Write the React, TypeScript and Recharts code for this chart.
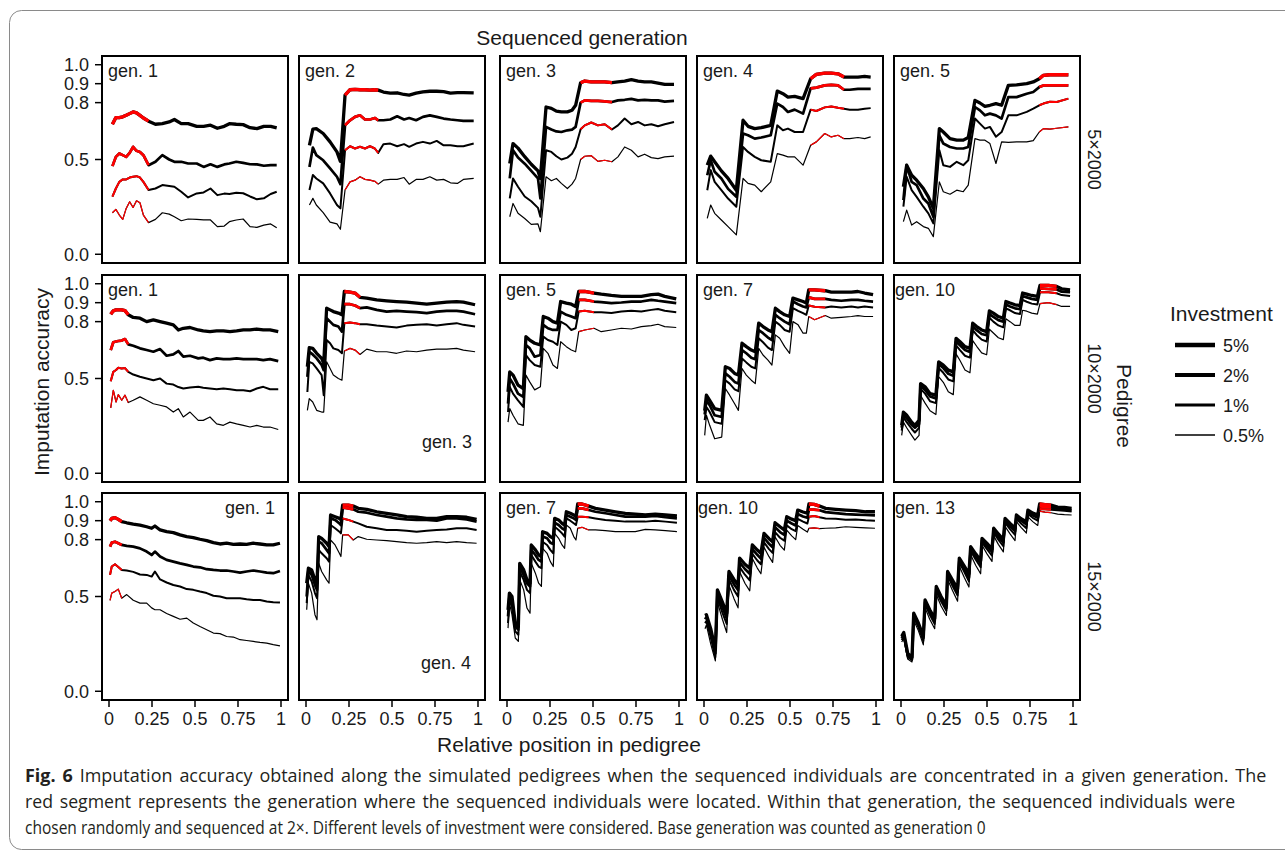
import React, { useLayoutEffect, useRef, useState } from "react";
import { LineChart, Line, XAxis, YAxis } from "recharts";

// ---- axes / labels ----
const xTicks = [0, 0.25, 0.5, 0.75, 1];
const yTicks = [0, 0.5, 0.8, 0.9, 1];
const investment = ["5%", "2%", "1%", "0.5%"];
const pedigrees = ["5×2000", "10×2000", "15×2000"];
const genLabels = [
  ["gen. 1", "gen. 2", "gen. 3", "gen. 4", "gen. 5"],
  ["gen. 1", "gen. 3", "gen. 5", "gen. 7", "gen. 10"],
  ["gen. 1", "gen. 4", "gen. 7", "gen. 10", "gen. 13"],
];
const captionLines = [
  "Imputation accuracy obtained along the simulated pedigrees when the sequenced individuals are concentrated in a given generation. The",
  "red segment represents the generation where the sequenced individuals were located. Within that generation, the sequenced individuals were",
  "chosen randomly and sequenced at 2×. Different levels of investment were considered. Base generation was counted as generation 0",
];

// ---- pedigree 5x2000 ----
const p11x = [0.02, 0.04, 0.06, 0.08, 0.1, 0.12, 0.14, 0.16, 0.18, 0.2, 0.23, 0.27, 0.31, 0.35, 0.38, 0.42, 0.46, 0.51, 0.55, 0.59, 0.63, 0.67, 0.7, 0.74, 0.78, 0.82, 0.86, 0.9, 0.94, 0.975];
const p11a = [0.686, 0.721, 0.721, 0.725, 0.733, 0.742, 0.751, 0.746, 0.733, 0.719, 0.702, 0.686, 0.689, 0.698, 0.711, 0.689, 0.689, 0.675, 0.675, 0.681, 0.665, 0.675, 0.689, 0.686, 0.684, 0.668, 0.663, 0.675, 0.675, 0.667];
const p11b = [0.465, 0.514, 0.532, 0.523, 0.514, 0.535, 0.567, 0.546, 0.54, 0.523, 0.47, 0.488, 0.523, 0.5, 0.488, 0.488, 0.479, 0.479, 0.461, 0.475, 0.461, 0.474, 0.479, 0.488, 0.482, 0.475, 0.474, 0.467, 0.47, 0.47];
const p11c = [0.304, 0.347, 0.382, 0.395, 0.395, 0.405, 0.409, 0.412, 0.405, 0.382, 0.339, 0.347, 0.365, 0.36, 0.356, 0.33, 0.3, 0.321, 0.326, 0.347, 0.312, 0.32, 0.318, 0.325, 0.322, 0.305, 0.29, 0.295, 0.318, 0.33];
const p11d = [0.219, 0.237, 0.207, 0.184, 0.242, 0.277, 0.247, 0.282, 0.272, 0.207, 0.167, 0.184, 0.219, 0.212, 0.198, 0.177, 0.186, 0.184, 0.181, 0.181, 0.146, 0.149, 0.172, 0.181, 0.186, 0.146, 0.142, 0.154, 0.16, 0.14];
const p11red = [0.02, 0.23];

const p12x = [0.02, 0.04, 0.06, 0.1, 0.14, 0.18, 0.2, 0.227, 0.256, 0.285, 0.314, 0.343, 0.372, 0.4, 0.42, 0.45, 0.49, 0.53, 0.57, 0.6, 0.64, 0.68, 0.72, 0.76, 0.8, 0.84, 0.88, 0.915, 0.975];
const p12a = [0.575, 0.66, 0.663, 0.637, 0.593, 0.54, 0.49, 0.84, 0.868, 0.87, 0.868, 0.868, 0.866, 0.868, 0.866, 0.856, 0.85, 0.852, 0.843, 0.84, 0.85, 0.857, 0.86, 0.86, 0.858, 0.85, 0.853, 0.853, 0.851];
const p12b = [0.461, 0.563, 0.523, 0.496, 0.453, 0.409, 0.37, 0.681, 0.707, 0.725, 0.733, 0.711, 0.711, 0.719, 0.707, 0.707, 0.711, 0.728, 0.711, 0.719, 0.707, 0.725, 0.733, 0.725, 0.716, 0.711, 0.707, 0.704, 0.704];
const p12c = [0.339, 0.418, 0.4, 0.374, 0.321, 0.26, 0.242, 0.549, 0.57, 0.558, 0.567, 0.558, 0.57, 0.558, 0.535, 0.581, 0.584, 0.57, 0.581, 0.567, 0.584, 0.593, 0.584, 0.598, 0.575, 0.575, 0.57, 0.57, 0.584];
const p12d = [0.26, 0.295, 0.26, 0.22, 0.17, 0.16, 0.132, 0.339, 0.382, 0.391, 0.409, 0.395, 0.391, 0.385, 0.37, 0.391, 0.395, 0.395, 0.405, 0.37, 0.395, 0.395, 0.409, 0.391, 0.395, 0.377, 0.374, 0.395, 0.4];
const p12red = [0.227, 0.42];

const p13x = [0.016, 0.035, 0.064, 0.103, 0.141, 0.18, 0.194, 0.227, 0.258, 0.287, 0.316, 0.351, 0.378, 0.399, 0.428, 0.452, 0.49, 0.529, 0.568, 0.61, 0.645, 0.684, 0.723, 0.762, 0.8, 0.839, 0.878, 0.917, 0.971];
const p13a = [0.479, 0.584, 0.56, 0.515, 0.475, 0.44, 0.4, 0.777, 0.77, 0.755, 0.751, 0.751, 0.76, 0.786, 0.905, 0.914, 0.909, 0.909, 0.909, 0.905, 0.909, 0.914, 0.921, 0.914, 0.909, 0.909, 0.903, 0.896, 0.896];
const p13b = [0.4, 0.549, 0.51, 0.478, 0.44, 0.4, 0.295, 0.672, 0.658, 0.648, 0.645, 0.654, 0.658, 0.672, 0.8, 0.812, 0.809, 0.809, 0.807, 0.803, 0.812, 0.815, 0.82, 0.812, 0.815, 0.812, 0.812, 0.805, 0.809];
const p13c = [0.295, 0.4, 0.356, 0.305, 0.28, 0.245, 0.198, 0.549, 0.54, 0.517, 0.5, 0.51, 0.53, 0.566, 0.66, 0.68, 0.695, 0.68, 0.686, 0.658, 0.68, 0.716, 0.686, 0.698, 0.68, 0.686, 0.675, 0.686, 0.698];
const p13d = [0.198, 0.268, 0.216, 0.189, 0.158, 0.16, 0.119, 0.409, 0.388, 0.4, 0.374, 0.347, 0.37, 0.4, 0.5, 0.517, 0.52, 0.49, 0.496, 0.488, 0.514, 0.566, 0.549, 0.514, 0.528, 0.51, 0.505, 0.514, 0.518];
const p13red = [0.428, 0.61];

const p14x = [0.019, 0.039, 0.062, 0.101, 0.14, 0.188, 0.227, 0.256, 0.295, 0.333, 0.388, 0.426, 0.459, 0.488, 0.527, 0.576, 0.62, 0.653, 0.702, 0.74, 0.779, 0.814, 0.847, 0.895, 0.934, 0.969];
const p14a = [0.47, 0.518, 0.488, 0.44, 0.4, 0.338, 0.707, 0.675, 0.663, 0.668, 0.68, 0.861, 0.847, 0.829, 0.833, 0.821, 0.926, 0.949, 0.956, 0.956, 0.952, 0.935, 0.935, 0.935, 0.938, 0.935];
const p14b = [0.417, 0.496, 0.435, 0.4, 0.345, 0.303, 0.637, 0.628, 0.61, 0.616, 0.628, 0.795, 0.777, 0.751, 0.763, 0.742, 0.875, 0.879, 0.891, 0.894, 0.891, 0.868, 0.868, 0.873, 0.873, 0.873];
const p14c = [0.338, 0.444, 0.382, 0.338, 0.294, 0.251, 0.566, 0.54, 0.514, 0.496, 0.488, 0.68, 0.654, 0.663, 0.645, 0.645, 0.763, 0.756, 0.775, 0.78, 0.773, 0.768, 0.763, 0.763, 0.768, 0.771];
const p14d = [0.189, 0.26, 0.216, 0.181, 0.146, 0.102, 0.4, 0.374, 0.365, 0.33, 0.382, 0.531, 0.523, 0.514, 0.514, 0.47, 0.575, 0.593, 0.637, 0.619, 0.628, 0.61, 0.61, 0.616, 0.61, 0.619];
const p14red = [0.62, 0.814];

const p15x = [0.014, 0.033, 0.062, 0.091, 0.13, 0.159, 0.188, 0.223, 0.246, 0.285, 0.324, 0.362, 0.391, 0.43, 0.459, 0.488, 0.517, 0.552, 0.585, 0.624, 0.672, 0.731, 0.769, 0.804, 0.828, 0.866, 0.905, 0.973];
const p15a = [0.356, 0.47, 0.417, 0.391, 0.347, 0.303, 0.242, 0.663, 0.645, 0.61, 0.602, 0.602, 0.616, 0.812, 0.798, 0.78, 0.786, 0.795, 0.786, 0.891, 0.894, 0.9, 0.909, 0.926, 0.944, 0.947, 0.947, 0.947];
const p15b = [0.286, 0.47, 0.382, 0.365, 0.294, 0.268, 0.198, 0.628, 0.584, 0.566, 0.558, 0.558, 0.566, 0.777, 0.759, 0.733, 0.742, 0.733, 0.716, 0.829, 0.829, 0.847, 0.856, 0.882, 0.891, 0.891, 0.891, 0.891];
const p15c = [0.251, 0.409, 0.338, 0.303, 0.251, 0.216, 0.163, 0.549, 0.47, 0.461, 0.488, 0.47, 0.496, 0.716, 0.689, 0.663, 0.672, 0.62, 0.645, 0.733, 0.733, 0.751, 0.768, 0.786, 0.795, 0.805, 0.803, 0.821];
const p15d = [0.172, 0.233, 0.154, 0.172, 0.146, 0.137, 0.093, 0.382, 0.33, 0.317, 0.338, 0.33, 0.365, 0.61, 0.602, 0.602, 0.584, 0.479, 0.593, 0.59, 0.593, 0.593, 0.6, 0.645, 0.663, 0.66, 0.665, 0.672];
const p15red = [0.804, 0.973];

// ---- pedigree 10x2000 ----
const p21x = [0.01, 0.025, 0.041, 0.054, 0.074, 0.093, 0.112, 0.141, 0.18, 0.219, 0.258, 0.297, 0.335, 0.374, 0.403, 0.432, 0.471, 0.519, 0.548, 0.587, 0.626, 0.665, 0.703, 0.742, 0.781, 0.82, 0.859, 0.897, 0.936, 0.984];
const p21a = [0.839, 0.857, 0.862, 0.862, 0.862, 0.858, 0.836, 0.822, 0.818, 0.8, 0.809, 0.8, 0.792, 0.783, 0.756, 0.765, 0.769, 0.756, 0.751, 0.747, 0.751, 0.751, 0.747, 0.751, 0.756, 0.756, 0.761, 0.756, 0.756, 0.747];
const p21b = [0.65, 0.691, 0.695, 0.698, 0.7, 0.708, 0.68, 0.673, 0.659, 0.65, 0.641, 0.655, 0.62, 0.627, 0.645, 0.615, 0.62, 0.606, 0.61, 0.597, 0.606, 0.602, 0.602, 0.606, 0.602, 0.602, 0.602, 0.597, 0.602, 0.592];
const p21c = [0.486, 0.535, 0.545, 0.557, 0.553, 0.555, 0.535, 0.521, 0.509, 0.5, 0.491, 0.5, 0.473, 0.468, 0.455, 0.447, 0.453, 0.456, 0.451, 0.447, 0.443, 0.447, 0.443, 0.438, 0.438, 0.433, 0.447, 0.456, 0.443, 0.443];
const p21d = [0.345, 0.438, 0.376, 0.415, 0.385, 0.412, 0.373, 0.385, 0.403, 0.385, 0.367, 0.359, 0.35, 0.323, 0.341, 0.297, 0.323, 0.279, 0.279, 0.297, 0.261, 0.253, 0.27, 0.261, 0.253, 0.244, 0.253, 0.244, 0.244, 0.231];
const p21red = [0.01, 0.112];

const p22x = [0.008, 0.019, 0.039, 0.062, 0.091, 0.103, 0.12, 0.14, 0.159, 0.188, 0.209, 0.223, 0.256, 0.285, 0.314, 0.353, 0.411, 0.469, 0.527, 0.585, 0.643, 0.702, 0.76, 0.818, 0.876, 0.915, 0.983];
const p22a = [0.562, 0.663, 0.659, 0.633, 0.606, 0.58, 0.871, 0.862, 0.853, 0.845, 0.836, 0.959, 0.956, 0.951, 0.928, 0.924, 0.915, 0.91, 0.906, 0.903, 0.898, 0.892, 0.898, 0.903, 0.906, 0.903, 0.889];
const p22b = [0.509, 0.641, 0.627, 0.606, 0.571, 0.544, 0.818, 0.8, 0.783, 0.774, 0.747, 0.892, 0.892, 0.885, 0.871, 0.875, 0.862, 0.853, 0.857, 0.853, 0.85, 0.845, 0.853, 0.857, 0.857, 0.853, 0.839];
const p22c = [0.429, 0.588, 0.58, 0.553, 0.518, 0.412, 0.703, 0.686, 0.659, 0.65, 0.633, 0.792, 0.795, 0.792, 0.786, 0.786, 0.779, 0.774, 0.769, 0.779, 0.783, 0.786, 0.779, 0.786, 0.792, 0.783, 0.774];
const p22d = [0.332, 0.394, 0.376, 0.332, 0.323, 0.323, 0.588, 0.553, 0.518, 0.5, 0.491, 0.645, 0.659, 0.65, 0.627, 0.655, 0.641, 0.641, 0.633, 0.645, 0.641, 0.65, 0.655, 0.655, 0.659, 0.65, 0.641];
const p22red = [0.223, 0.314];

const p23x = [0.006, 0.016, 0.035, 0.064, 0.095, 0.11, 0.132, 0.161, 0.194, 0.211, 0.238, 0.267, 0.293, 0.312, 0.345, 0.374, 0.399, 0.417, 0.452, 0.506, 0.548, 0.607, 0.665, 0.723, 0.781, 0.839, 0.878, 0.917, 0.984];
const p23a = [0.429, 0.535, 0.518, 0.465, 0.447, 0.721, 0.703, 0.686, 0.677, 0.827, 0.818, 0.8, 0.792, 0.906, 0.898, 0.892, 0.88, 0.959, 0.959, 0.951, 0.945, 0.938, 0.933, 0.933, 0.933, 0.942, 0.945, 0.933, 0.92];
const p23b = [0.367, 0.5, 0.473, 0.42, 0.403, 0.677, 0.659, 0.615, 0.624, 0.783, 0.765, 0.756, 0.756, 0.853, 0.836, 0.827, 0.818, 0.915, 0.915, 0.906, 0.903, 0.898, 0.901, 0.906, 0.906, 0.915, 0.91, 0.906, 0.898];
const p23c = [0.323, 0.456, 0.42, 0.385, 0.35, 0.624, 0.597, 0.571, 0.562, 0.721, 0.703, 0.694, 0.677, 0.8, 0.783, 0.756, 0.765, 0.853, 0.857, 0.85, 0.85, 0.845, 0.853, 0.857, 0.853, 0.862, 0.867, 0.857, 0.85];
const p23d = [0.27, 0.341, 0.306, 0.261, 0.253, 0.518, 0.482, 0.44, 0.456, 0.659, 0.633, 0.571, 0.553, 0.694, 0.668, 0.65, 0.641, 0.747, 0.756, 0.765, 0.747, 0.756, 0.765, 0.761, 0.774, 0.779, 0.786, 0.774, 0.769];
const p23red = [0.417, 0.506];

const p24x = [0.004, 0.014, 0.033, 0.062, 0.103, 0.124, 0.149, 0.178, 0.2, 0.221, 0.246, 0.275, 0.298, 0.318, 0.343, 0.372, 0.395, 0.415, 0.44, 0.469, 0.498, 0.517, 0.547, 0.576, 0.595, 0.609, 0.643, 0.705, 0.74, 0.798, 0.857, 0.895, 0.934, 0.983];
const p24a = [0.33, 0.412, 0.385, 0.341, 0.332, 0.562, 0.553, 0.527, 0.518, 0.686, 0.668, 0.65, 0.641, 0.792, 0.774, 0.756, 0.747, 0.871, 0.853, 0.836, 0.827, 0.924, 0.915, 0.906, 0.898, 0.968, 0.968, 0.963, 0.956, 0.956, 0.956, 0.959, 0.951, 0.942];
const p24b = [0.31, 0.385, 0.359, 0.306, 0.297, 0.527, 0.509, 0.482, 0.473, 0.65, 0.633, 0.61, 0.602, 0.756, 0.739, 0.716, 0.703, 0.836, 0.818, 0.8, 0.786, 0.906, 0.892, 0.88, 0.875, 0.928, 0.92, 0.92, 0.915, 0.91, 0.915, 0.915, 0.91, 0.906];
const p24c = [0.28, 0.35, 0.323, 0.27, 0.261, 0.491, 0.473, 0.443, 0.433, 0.606, 0.585, 0.562, 0.553, 0.712, 0.691, 0.663, 0.65, 0.8, 0.783, 0.756, 0.747, 0.871, 0.857, 0.845, 0.836, 0.885, 0.878, 0.875, 0.88, 0.875, 0.88, 0.875, 0.88, 0.875];
const p24d = [0.2, 0.306, 0.253, 0.182, 0.191, 0.447, 0.412, 0.367, 0.332, 0.553, 0.518, 0.491, 0.473, 0.659, 0.624, 0.597, 0.571, 0.73, 0.712, 0.668, 0.633, 0.8, 0.783, 0.739, 0.739, 0.827, 0.81, 0.832, 0.818, 0.822, 0.827, 0.832, 0.827, 0.827];
const p24red = [0.609, 0.705];

const p25x = [0.004, 0.014, 0.033, 0.062, 0.081, 0.105, 0.114, 0.14, 0.169, 0.203, 0.219, 0.246, 0.275, 0.304, 0.32, 0.343, 0.372, 0.401, 0.417, 0.44, 0.469, 0.498, 0.514, 0.537, 0.566, 0.595, 0.61, 0.634, 0.663, 0.692, 0.707, 0.731, 0.76, 0.793, 0.808, 0.857, 0.905, 0.934, 0.983];
const p25a = [0.253, 0.323, 0.306, 0.27, 0.253, 0.279, 0.473, 0.456, 0.42, 0.412, 0.588, 0.571, 0.544, 0.535, 0.712, 0.694, 0.668, 0.659, 0.792, 0.774, 0.756, 0.747, 0.857, 0.845, 0.827, 0.818, 0.906, 0.898, 0.889, 0.885, 0.951, 0.945, 0.938, 0.933, 0.991, 0.991, 0.986, 0.973, 0.968];
const p25b = [0.24, 0.31, 0.29, 0.255, 0.24, 0.26, 0.46, 0.44, 0.405, 0.395, 0.575, 0.555, 0.525, 0.515, 0.695, 0.675, 0.65, 0.64, 0.775, 0.755, 0.735, 0.728, 0.84, 0.825, 0.808, 0.8, 0.89, 0.88, 0.87, 0.866, 0.935, 0.928, 0.92, 0.915, 0.975, 0.972, 0.97, 0.958, 0.955];
const p25c = [0.225, 0.295, 0.27, 0.235, 0.215, 0.24, 0.445, 0.42, 0.38, 0.37, 0.555, 0.53, 0.495, 0.485, 0.675, 0.65, 0.62, 0.61, 0.755, 0.73, 0.705, 0.695, 0.82, 0.8, 0.78, 0.77, 0.87, 0.86, 0.845, 0.84, 0.915, 0.905, 0.895, 0.89, 0.955, 0.955, 0.95, 0.94, 0.935];
const p25d = [0.2, 0.27, 0.24, 0.2, 0.175, 0.2, 0.41, 0.37, 0.33, 0.31, 0.51, 0.48, 0.43, 0.415, 0.63, 0.595, 0.545, 0.53, 0.7, 0.67, 0.635, 0.625, 0.76, 0.74, 0.715, 0.705, 0.815, 0.8, 0.78, 0.78, 0.86, 0.855, 0.845, 0.84, 0.895, 0.9, 0.89, 0.88, 0.88];
const p25red = [0.808, 0.905];

// ---- pedigree 15x2000 ----
const p31x = [0.006, 0.016, 0.035, 0.054, 0.074, 0.103, 0.141, 0.18, 0.219, 0.248, 0.267, 0.297, 0.335, 0.374, 0.413, 0.452, 0.49, 0.529, 0.568, 0.607, 0.645, 0.684, 0.723, 0.762, 0.8, 0.839, 0.878, 0.917, 0.955, 0.994];
const p31a = [0.9, 0.912, 0.916, 0.907, 0.895, 0.889, 0.882, 0.877, 0.868, 0.86, 0.872, 0.851, 0.842, 0.837, 0.825, 0.816, 0.811, 0.802, 0.795, 0.784, 0.777, 0.781, 0.775, 0.777, 0.775, 0.781, 0.777, 0.772, 0.772, 0.781];
const p31b = [0.763, 0.784, 0.789, 0.781, 0.772, 0.767, 0.763, 0.754, 0.737, 0.719, 0.737, 0.711, 0.693, 0.684, 0.675, 0.667, 0.658, 0.654, 0.644, 0.64, 0.637, 0.637, 0.632, 0.626, 0.632, 0.637, 0.632, 0.626, 0.623, 0.635];
const p31c = [0.614, 0.658, 0.67, 0.656, 0.64, 0.637, 0.63, 0.616, 0.614, 0.605, 0.632, 0.59, 0.574, 0.561, 0.553, 0.539, 0.535, 0.526, 0.518, 0.504, 0.5, 0.491, 0.491, 0.491, 0.486, 0.482, 0.482, 0.474, 0.47, 0.468];
const p31d = [0.479, 0.518, 0.526, 0.539, 0.491, 0.51, 0.48, 0.465, 0.465, 0.44, 0.43, 0.43, 0.41, 0.395, 0.38, 0.386, 0.36, 0.342, 0.325, 0.307, 0.304, 0.289, 0.286, 0.272, 0.268, 0.263, 0.258, 0.254, 0.246, 0.24];
const p31red = [0.006, 0.074];

const p32x = [0.004, 0.014, 0.033, 0.052, 0.064, 0.074, 0.091, 0.12, 0.134, 0.143, 0.169, 0.194, 0.203, 0.213, 0.246, 0.275, 0.304, 0.353, 0.411, 0.469, 0.527, 0.585, 0.643, 0.702, 0.76, 0.818, 0.876, 0.934, 0.992];
const p32a = [0.57, 0.649, 0.64, 0.588, 0.57, 0.816, 0.807, 0.781, 0.763, 0.93, 0.921, 0.912, 0.904, 0.982, 0.982, 0.977, 0.965, 0.96, 0.947, 0.939, 0.93, 0.921, 0.918, 0.912, 0.912, 0.921, 0.921, 0.918, 0.907];
const p32b = [0.5, 0.64, 0.614, 0.561, 0.535, 0.789, 0.781, 0.746, 0.728, 0.912, 0.904, 0.886, 0.877, 0.97, 0.965, 0.96, 0.947, 0.942, 0.93, 0.921, 0.912, 0.907, 0.904, 0.904, 0.9, 0.912, 0.912, 0.907, 0.895];
const p32c = [0.465, 0.614, 0.579, 0.518, 0.491, 0.746, 0.728, 0.702, 0.684, 0.877, 0.86, 0.842, 0.833, 0.912, 0.904, 0.895, 0.886, 0.868, 0.86, 0.851, 0.851, 0.847, 0.842, 0.847, 0.851, 0.854, 0.86, 0.86, 0.851];
const p32d = [0.43, 0.57, 0.518, 0.404, 0.377, 0.675, 0.632, 0.588, 0.57, 0.798, 0.772, 0.728, 0.711, 0.825, 0.825, 0.798, 0.816, 0.802, 0.798, 0.795, 0.789, 0.784, 0.781, 0.784, 0.789, 0.784, 0.789, 0.784, 0.781];
const p32red = [0.213, 0.275];

const p33x = [0.006, 0.014, 0.029, 0.048, 0.066, 0.074, 0.097, 0.116, 0.134, 0.141, 0.165, 0.184, 0.2, 0.207, 0.233, 0.252, 0.269, 0.277, 0.3, 0.32, 0.335, 0.345, 0.368, 0.388, 0.401, 0.411, 0.436, 0.475, 0.514, 0.572, 0.63, 0.688, 0.746, 0.804, 0.862, 0.921, 0.988];
const p33a = [0.43, 0.518, 0.5, 0.36, 0.342, 0.675, 0.64, 0.588, 0.57, 0.772, 0.746, 0.719, 0.711, 0.842, 0.833, 0.816, 0.807, 0.912, 0.904, 0.886, 0.877, 0.947, 0.939, 0.93, 0.921, 0.988, 0.988, 0.977, 0.965, 0.956, 0.947, 0.939, 0.935, 0.93, 0.935, 0.93, 0.925];
const p33b = [0.395, 0.5, 0.474, 0.342, 0.325, 0.658, 0.614, 0.57, 0.553, 0.746, 0.719, 0.693, 0.684, 0.816, 0.807, 0.784, 0.777, 0.889, 0.877, 0.86, 0.851, 0.93, 0.921, 0.912, 0.904, 0.965, 0.965, 0.956, 0.947, 0.939, 0.93, 0.921, 0.921, 0.921, 0.925, 0.918, 0.912];
const p33c = [0.36, 0.482, 0.447, 0.316, 0.298, 0.632, 0.588, 0.535, 0.518, 0.719, 0.684, 0.658, 0.649, 0.789, 0.772, 0.746, 0.728, 0.868, 0.851, 0.833, 0.816, 0.912, 0.9, 0.886, 0.877, 0.921, 0.921, 0.918, 0.912, 0.904, 0.9, 0.895, 0.895, 0.895, 0.9, 0.895, 0.889];
const p33d = [0.333, 0.465, 0.404, 0.281, 0.263, 0.588, 0.535, 0.439, 0.412, 0.675, 0.623, 0.57, 0.553, 0.754, 0.728, 0.684, 0.658, 0.833, 0.807, 0.772, 0.754, 0.877, 0.86, 0.816, 0.798, 0.86, 0.865, 0.851, 0.851, 0.847, 0.842, 0.842, 0.842, 0.854, 0.851, 0.847, 0.842];
const p33red = [0.411, 0.475];

const p34x = [0.006, 0.014, 0.039, 0.066, 0.078, 0.107, 0.132, 0.145, 0.174, 0.198, 0.207, 0.238, 0.266, 0.281, 0.31, 0.331, 0.349, 0.378, 0.399, 0.413, 0.442, 0.467, 0.481, 0.51, 0.533, 0.545, 0.576, 0.601, 0.61, 0.64, 0.672, 0.707, 0.766, 0.824, 0.882, 0.94, 0.994];
const p34a = [0.4, 0.404, 0.33, 0.219, 0.535, 0.47, 0.412, 0.632, 0.59, 0.561, 0.702, 0.67, 0.649, 0.772, 0.745, 0.728, 0.833, 0.805, 0.789, 0.889, 0.868, 0.851, 0.921, 0.908, 0.9, 0.956, 0.946, 0.939, 0.988, 0.986, 0.977, 0.965, 0.96, 0.956, 0.953, 0.947, 0.947];
const p34b = [0.38, 0.39, 0.31, 0.2, 0.515, 0.445, 0.385, 0.612, 0.565, 0.535, 0.68, 0.645, 0.62, 0.75, 0.72, 0.7, 0.81, 0.778, 0.76, 0.865, 0.84, 0.825, 0.9, 0.885, 0.875, 0.935, 0.922, 0.915, 0.958, 0.958, 0.955, 0.945, 0.94, 0.935, 0.932, 0.93, 0.928];
const p34c = [0.36, 0.37, 0.285, 0.18, 0.495, 0.415, 0.355, 0.59, 0.535, 0.5, 0.655, 0.615, 0.585, 0.725, 0.69, 0.67, 0.785, 0.75, 0.73, 0.84, 0.81, 0.795, 0.875, 0.855, 0.845, 0.91, 0.895, 0.885, 0.921, 0.925, 0.918, 0.912, 0.91, 0.905, 0.906, 0.902, 0.9];
const p34d = [0.33, 0.35, 0.25, 0.16, 0.47, 0.38, 0.31, 0.56, 0.49, 0.44, 0.63, 0.57, 0.53, 0.7, 0.65, 0.62, 0.76, 0.71, 0.68, 0.815, 0.77, 0.745, 0.85, 0.82, 0.8, 0.875, 0.855, 0.84, 0.86, 0.862, 0.858, 0.86, 0.862, 0.868, 0.865, 0.862, 0.86];
const p34red = [0.61, 0.672];

const p35x = [0.004, 0.016, 0.039, 0.064, 0.074, 0.101, 0.13, 0.14, 0.167, 0.196, 0.205, 0.233, 0.264, 0.271, 0.3, 0.329, 0.339, 0.368, 0.395, 0.405, 0.434, 0.463, 0.471, 0.5, 0.529, 0.539, 0.566, 0.595, 0.605, 0.634, 0.663, 0.671, 0.698, 0.729, 0.738, 0.766, 0.795, 0.806, 0.837, 0.872, 0.911, 0.95, 0.992];
const p35a = [0.29, 0.31, 0.2, 0.18, 0.412, 0.36, 0.29, 0.482, 0.43, 0.385, 0.553, 0.5, 0.455, 0.632, 0.585, 0.54, 0.702, 0.66, 0.62, 0.763, 0.725, 0.69, 0.807, 0.78, 0.75, 0.86, 0.83, 0.8, 0.912, 0.885, 0.86, 0.93, 0.91, 0.895, 0.956, 0.94, 0.93, 0.988, 0.985, 0.982, 0.972, 0.97, 0.965];
const p35b = [0.28, 0.3, 0.19, 0.17, 0.4, 0.35, 0.28, 0.47, 0.42, 0.37, 0.54, 0.49, 0.44, 0.62, 0.57, 0.525, 0.69, 0.645, 0.6, 0.75, 0.71, 0.675, 0.795, 0.765, 0.735, 0.848, 0.815, 0.785, 0.9, 0.87, 0.845, 0.92, 0.9, 0.88, 0.945, 0.928, 0.915, 0.975, 0.972, 0.97, 0.962, 0.96, 0.956];
const p35c = [0.27, 0.29, 0.18, 0.165, 0.39, 0.34, 0.265, 0.46, 0.405, 0.355, 0.53, 0.475, 0.425, 0.61, 0.555, 0.505, 0.68, 0.63, 0.58, 0.74, 0.695, 0.655, 0.785, 0.75, 0.715, 0.838, 0.8, 0.765, 0.89, 0.855, 0.825, 0.91, 0.885, 0.86, 0.935, 0.915, 0.9, 0.962, 0.96, 0.958, 0.955, 0.952, 0.948];
const p35d = [0.26, 0.28, 0.17, 0.155, 0.375, 0.32, 0.245, 0.44, 0.38, 0.33, 0.51, 0.45, 0.4, 0.59, 0.53, 0.475, 0.66, 0.6, 0.55, 0.72, 0.665, 0.62, 0.77, 0.725, 0.685, 0.82, 0.775, 0.735, 0.87, 0.83, 0.795, 0.895, 0.865, 0.835, 0.92, 0.895, 0.875, 0.95, 0.945, 0.942, 0.935, 0.932, 0.93];
const p35red = [0.806, 0.872];

const panelData = [
  [
    { xs: p11x, ys: [p11a, p11b, p11c, p11d], red: p11red },
    { xs: p12x, ys: [p12a, p12b, p12c, p12d], red: p12red },
    { xs: p13x, ys: [p13a, p13b, p13c, p13d], red: p13red },
    { xs: p14x, ys: [p14a, p14b, p14c, p14d], red: p14red },
    { xs: p15x, ys: [p15a, p15b, p15c, p15d], red: p15red },
  ],
  [
    { xs: p21x, ys: [p21a, p21b, p21c, p21d], red: p21red },
    { xs: p22x, ys: [p22a, p22b, p22c, p22d], red: p22red },
    { xs: p23x, ys: [p23a, p23b, p23c, p23d], red: p23red },
    { xs: p24x, ys: [p24a, p24b, p24c, p24d], red: p24red },
    { xs: p25x, ys: [p25a, p25b, p25c, p25d], red: p25red },
  ],
  [
    { xs: p31x, ys: [p31a, p31b, p31c, p31d], red: p31red },
    { xs: p32x, ys: [p32a, p32b, p32c, p32d], red: p32red },
    { xs: p33x, ys: [p33a, p33b, p33c, p33d], red: p33red },
    { xs: p34x, ys: [p34a, p34b, p34c, p34d], red: p34red },
    { xs: p35x, ys: [p35a, p35b, p35c, p35d], red: p35red },
  ],
];

// ---- layout ----
const PANEL_LEFT = [102, 299, 500, 697, 894];
const PANEL_TOP = [56, 275, 493];
const PW = 186;
const PH = 207;
const Y_AXIS_W = 60;
const X_AXIS_H = 36;
const PAD_BOTTOM = 14; // room below the "0.0" tick label
const LINE_W = [3.3, 2.7, 2.0, 1.2];
const LEGEND_W = [4.5, 3.9, 3.0, 1.7];
const FONT = "'Liberation Sans', Arial, Helvetica, sans-serif";
const CAP_FONT = "'Open Sans', sans-serif";
const RED = "#ff0000";
const CAP_X = 25;
const CAP_Y = [782, 808, 834];
const CAP_END = [1265, 1236, 986];
const GLYPH_SHARE = 0.8; // part of the justified stretch taken by glyphs, the rest by word spaces

// where the "gen." label sits: [center offset from panel left, baseline offset from panel top]
const labelPos = (row: number, col: number): [number, number] => {
  if (row === 1 && col === 1) return [148, 173];
  if (row === 2 && col === 1) return [147, 176];
  if (row === 2 && col === 0) return [148, 21];
  return [31, 21];
};

function Panel({ row, col }: { row: number; col: number }) {
  const p = panelData[row][col];
  const showY = col === 0;
  const showX = row === 2;
  const padB = showX ? 0 : showY ? PAD_BOTTOM : 0;
  const series = p.ys.map((ys) => p.xs.map((x, i) => ({ x, y: ys[i] })));
  const reds = series.map((s) =>
    s.filter((pt) => pt.x >= p.red[0] - 1e-6 && pt.x <= p.red[1] + 1e-6)
  );
  const tickStyle = { fontSize: 18, fill: "#1a1a1a", fontFamily: FONT };
  return (
    <div
      style={{
        position: "absolute",
        left: PANEL_LEFT[col] - (showY ? Y_AXIS_W : 0),
        top: PANEL_TOP[row],
      }}
    >
      <LineChart
        width={PW + (showY ? Y_AXIS_W : 0)}
        height={PH + (showX ? X_AXIS_H : 0) + padB}
        margin={{ top: 0, right: 0, bottom: padB, left: 0 }}
      >
        <XAxis
          type="number"
          dataKey="x"
          domain={[-0.0407, 1.0407]}
          allowDataOverflow
          ticks={xTicks}
          interval={0}
          hide={!showX}
          height={X_AXIS_H}
          axisLine={false}
          tickSize={7}
          tickMargin={5}
          tickLine={{ stroke: "#000", strokeWidth: 1.5 }}
          tick={tickStyle}
          tickFormatter={(v) => String(v)}
        />
        <YAxis
          type="number"
          domain={[-0.046, 1.046]}
          allowDataOverflow
          ticks={yTicks}
          interval={0}
          hide={!showY}
          width={Y_AXIS_W}
          axisLine={false}
          tickSize={7}
          tickMargin={6}
          tickLine={{ stroke: "#000", strokeWidth: 1.5 }}
          tick={tickStyle}
          tickFormatter={(v) => Number(v).toFixed(1)}
        />
        {series.map((s, i) => (
          <Line
            key={"b" + i}
            data={s}
            dataKey="y"
            type="linear"
            stroke="#000"
            strokeWidth={LINE_W[i]}
            strokeLinejoin="round"
            dot={false}
            activeDot={false}
            isAnimationActive={false}
          />
        ))}
        {reds.map((s, i) => (
          <Line
            key={"r" + i}
            data={s}
            dataKey="y"
            type="linear"
            stroke={RED}
            strokeWidth={LINE_W[i]}
            strokeLinejoin="round"
            dot={false}
            activeDot={false}
            isAnimationActive={false}
          />
        ))}
      </LineChart>
    </div>
  );
}

// caption: glyphs squeezed like a condensed face; the first two lines are justified
function Caption() {
  const r0 = useRef<SVGTextElement>(null);
  const r1 = useRef<SVGTextElement>(null);
  const r2 = useRef<SVGTextElement>(null);
  const refs = [r0, r1, r2];
  const [widths, setWidths] = useState<number[] | null>(null);
  useLayoutEffect(() => {
    setWidths(refs.map((r) => (r.current ? r.current.getComputedTextLength() : 0)));
  }, []);
  const base = widths && widths[2] > 0 ? (CAP_END[2] - CAP_X) / widths[2] : 1;
  return (
    <g>
      {[0, 1, 2].map((i) => {
        const spaces = (i === 0 ? captionLines[0] + " x" : captionLines[i]).split(" ").length - 1;
        let s = base;
        let ws = 0;
        if (widths && i < 2 && widths[i] > 0) {
          const fit = (CAP_END[i] - CAP_X) / widths[i];
          s = base + GLYPH_SHARE * (fit - base);
          ws = (CAP_END[i] - CAP_X - s * widths[i]) / (s * spaces);
        }
        return (
          <g key={i} transform={`translate(${CAP_X},${CAP_Y[i]}) scale(${s},1)`}>
            <text
              ref={refs[i]}
              x={0}
              y={0}
              fontFamily={CAP_FONT}
              fontSize={18.5}
              fill="#231f20"
              style={{ wordSpacing: ws }}
            >
              {i === 0 ? (
                <>
                  <tspan fontWeight={700}>Fig. 6</tspan>
                  <tspan> {captionLines[0]}</tspan>
                </>
              ) : (
                captionLines[i]
              )}
            </text>
          </g>
        );
      })}
    </g>
  );
}

export default function App() {
  const rows = [0, 1, 2];
  const cols = [0, 1, 2, 3, 4];
  const legendY = [345, 375, 405, 435];
  return (
    <div
      style={{
        position: "absolute",
        left: 0,
        top: 0,
        width: 1285,
        height: 852,
        background: "#fff",
        overflow: "hidden",
      }}
    >
      {rows.map((r) => cols.map((c) => <Panel key={r + "-" + c} row={r} col={c} />))}
      <svg
        width={1285}
        height={852}
        style={{ position: "absolute", left: 0, top: 0, pointerEvents: "none" }}
      >
        <rect x={9.5} y={10.5} width={1300} height={839} rx={12} fill="none" stroke="#8a8a8a" strokeWidth={1} />
        {rows.map((r) =>
          cols.map((c) => {
            const [lx, ly] = labelPos(r, c);
            return (
              <g key={"f" + r + c}>
                <rect x={PANEL_LEFT[c]} y={PANEL_TOP[r]} width={PW} height={PH} fill="none" stroke="#000" strokeWidth={2} />
                <text x={PANEL_LEFT[c] + lx} y={PANEL_TOP[r] + ly} textAnchor="middle" fontFamily={FONT} fontSize={18} fill="#1a1a1a">
                  {genLabels[r][c]}
                </text>
              </g>
            );
          })
        )}
        <text x={582} y={45} textAnchor="middle" fontFamily={FONT} fontSize={21} fill="#1a1a1a">
          Sequenced generation
        </text>
        <text x={569} y={752} textAnchor="middle" fontFamily={FONT} fontSize={21} fill="#1a1a1a">
          Relative position in pedigree
        </text>
        <text transform="translate(48.5,382) rotate(-90)" textAnchor="middle" fontFamily={FONT} fontSize={21} fill="#1a1a1a">
          Imputation accuracy
        </text>
        {pedigrees.map((t, r) => (
          <text key={t} transform={`translate(1088,${PANEL_TOP[r] + PH / 2}) rotate(90)`} textAnchor="middle" fontFamily={FONT} fontSize={18} fill="#1a1a1a">
            {t}
          </text>
        ))}
        <text transform="translate(1117,406) rotate(90)" textAnchor="middle" fontFamily={FONT} fontSize={21} fill="#1a1a1a">
          Pedigree
        </text>
        <text x={1170} y={321} fontFamily={FONT} fontSize={21} fill="#1a1a1a">
          Investment
        </text>
        {investment.map((t, i) => (
          <g key={t}>
            <line x1={1175} x2={1215} y1={legendY[i]} y2={legendY[i]} stroke="#000" strokeWidth={LEGEND_W[i]} />
            <text x={1223} y={legendY[i] + 6.5} fontFamily={FONT} fontSize={18} fill="#1a1a1a">
              {t}
            </text>
          </g>
        ))}
        <Caption />
      </svg>
    </div>
  );
}
